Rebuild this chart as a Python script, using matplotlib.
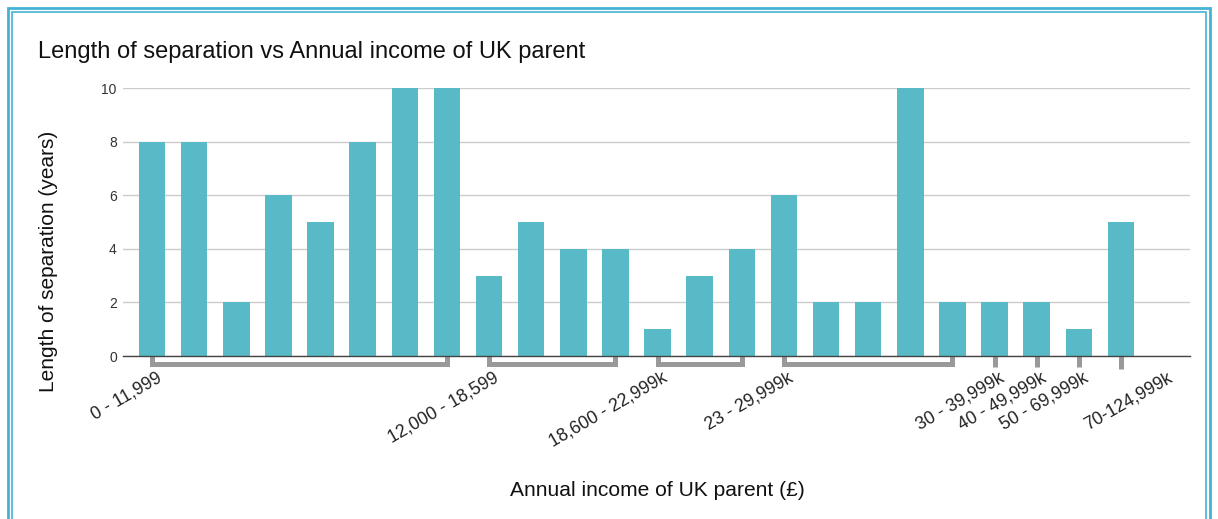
import numpy as np
import matplotlib
matplotlib.use('Agg')
import matplotlib.pyplot as plt
from matplotlib.patches import Rectangle
from matplotlib.transforms import ScaledTranslation

plt.rcParams['font.family'] = ['Liberation Sans', 'DejaVu Sans']

# Length of separation (years) for each response, in sheet order
values = [8, 8, 2, 6, 5, 8, 10, 10,
          3, 5, 4, 4,
          1, 3, 4,
          6, 2, 2, 10, 2,
          2, 2, 1, 5]

# Income bands (group label, number of rows in the group)
group_labels = ["0 - 11,999", "12,000 - 18,599", "18,600 - 22,999k", "23 - 29,999k",
                "30 - 39,999k", "40 - 49,999k", "50 - 69,999k", "", "70-124,999k"]
group_sizes = [8, 4, 3, 5, 1, 1, 1, 1, 1]

y_ticks = [0, 2, 4, 6, 8, 10]

bar_color = '#57BAC6'
bracket_color = '#999999'
frame_color = '#45B2D6'

W, H = 1218, 519
fig = plt.figure(figsize=(W / 100, H / 100), dpi=100)
ax = fig.add_axes([123 / W, 1 - 356 / H, (1190 - 123) / W, (356 - 88) / H])

x = np.arange(len(values))
ax.bar(x, values, width=0.63, color=bar_color, zorder=3)

ax.set_xlim(-0.69, 24.64)
ax.set_ylim(0, 10)

# y axis / grid
ax.set_yticks(y_ticks)
ax.tick_params(axis='y', length=0, labelsize=10, pad=4.5, labelcolor='#333333')
ax.grid(axis='y', color='#cccccc', linewidth=1, zorder=0)
for s in ['left', 'right', 'top']:
    ax.spines[s].set_visible(False)
ax.spines['bottom'].set_color('#444444')
ax.spines['bottom'].set_linewidth(1)
ax.spines['bottom'].set_zorder(4)
ax.set_xticks([])

# group brackets and labels under the axis
trans = ax.get_xaxis_transform()
label_trans = trans + ScaledTranslation(4 / 100, -13 / 100, fig.dpi_scale_trans)
px = 1 / (356 - 88)  # one pixel in axes units
start = 0
for lab, size in zip(group_labels, group_sizes):
    end = start + size - 1
    if start < len(values):
        if size > 1:
            ax.plot([start, start, end, end], [0, -8 * px, -8 * px, 0], transform=trans,
                    color=bracket_color, lw=3.6, clip_on=False, solid_joinstyle='miter',
                    solid_capstyle='butt', zorder=2)
        else:
            depth = 13 if lab == "" else 11
            ax.plot([start, start], [0, -depth * px], transform=trans,
                    color=bracket_color, lw=3.6, clip_on=False, solid_capstyle='butt', zorder=2)
    if lab:
        ax.text(start, 0, lab, transform=label_trans, rotation=30, ha='right', va='top',
                rotation_mode='anchor', fontsize=12.8, color='#222222', clip_on=False)
    start += size

fig.text(38 / W, 1 - 52 / H, "Length of separation vs Annual income of UK parent",
         fontsize=17, ha='left', va='center', color='#111111')
fig.text(49 / W, 1 - 261 / H, "Length of separation (years)", rotation=90,
         fontsize=15, ha='center', va='center', color='#111111')
fig.text(657 / W, 1 - 490 / H, "Annual income of UK parent (£)",
         fontsize=15.1, ha='center', va='center', color='#111111')

# double frame around the chart
for off, lw in [(8, 2.0), (12, 1.2)]:
    fig.patches.append(Rectangle((off / W, -0.05), (W - 2 * off) / W, 1 - off / H + 0.05,
                                 transform=fig.transFigure, fill=False,
                                 edgecolor=frame_color, linewidth=lw))

fig.savefig('out.png', dpi=100, facecolor='white')
